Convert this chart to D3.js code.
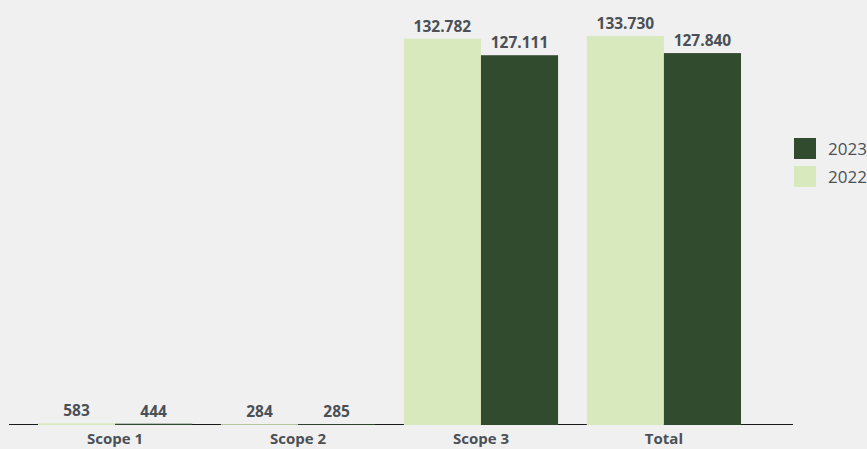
<!DOCTYPE html>
<html>
<head>
<meta charset="utf-8">
<script src="https://cdn.jsdelivr.net/npm/d3@7"></script>
<style>
  html, body { margin: 0; padding: 0; background: #f0f0f0; }
  svg { display: block; }
  text { font-family: "Open Sans", "Noto Sans", sans-serif; }
</style>
</head>
<body>
<svg id="chart" width="867" height="449"></svg>
<script>
// Emissions by scope, 2022 vs 2023
const categories = ["Scope 1", "Scope 2", "Scope 3", "Total"];
const years = ["2022", "2023"];
const values2022 = [583, 284, 132782, 133730];
const values2023 = [444, 285, 127111, 127840];
const legendOrder = ["2023", "2022"];

const colors = { "2022": "#d9e9be", "2023": "#314b2f" };
const textColor = "#4b5056";
const fmt = d3.formatLocale({ decimal: ",", thousands: ".", grouping: [3], currency: ["", "€"] }).format(",d");

const rows = categories.map((c, i) => ({
  category: c,
  "2022": values2022[i],
  "2023": values2023[i]
}));

const svg = d3.select("#chart");
const baseY = 425;

const x = d3.scaleBand().domain(categories).range([38, 741]).paddingInner(0.157).paddingOuter(0);
const xs = d3.scaleBand().domain(years).range([0, x.bandwidth()]);
const y = d3.scaleLinear().domain([0, 137500]).range([baseY, 25]);

// baseline
svg.append("line")
  .attr("x1", 9).attr("x2", 793)
  .attr("y1", baseY - 0.5).attr("y2", baseY - 0.5)
  .attr("stroke", "#1a1a1a").attr("stroke-width", 1);

const groups = svg.append("g").selectAll("g")
  .data(rows).join("g")
  .attr("transform", d => `translate(${x(d.category)},0)`);

const cells = groups.selectAll("g")
  .data(d => years.map(yr => ({ year: yr, value: d[yr] })))
  .join("g");

cells.append("rect")
  .attr("x", d => xs(d.year))
  .attr("width", xs.bandwidth())
  .attr("y", d => y(d.value))
  .attr("height", d => baseY - y(d.value))
  .attr("fill", d => colors[d.year]);

cells.append("text")
  .attr("x", d => xs(d.year) + xs.bandwidth() / 2)
  .attr("y", d => y(d.value) - 7)
  .attr("text-anchor", "middle")
  .attr("font-size", 15.5)
  .attr("font-weight", 700)
  .attr("fill", textColor)
  .text(d => fmt(d.value));

// category axis
const axis = svg.append("g")
  .attr("transform", `translate(0,${baseY})`)
  .call(d3.axisBottom(x).tickSize(0).tickPadding(0));
axis.select(".domain").remove();
axis.selectAll("text")
  .attr("y", 19)
  .attr("dy", 0)
  .attr("font-size", 15)
  .attr("font-weight", 700)
  .attr("font-family", "'Open Sans', 'Noto Sans', sans-serif")
  .attr("fill", textColor);

// legend
const legend = svg.append("g").attr("transform", "translate(794,138)");
const li = legend.selectAll("g").data(legendOrder).join("g")
  .attr("transform", (d, i) => `translate(0,${i * 28})`);
li.append("rect").attr("width", 22).attr("height", 21).attr("fill", d => colors[d]);
li.append("text")
  .attr("x", 34).attr("y", 17)
  .attr("font-size", 17)
  .attr("fill", textColor)
  .text(d => d);
</script>
</body>
</html>
